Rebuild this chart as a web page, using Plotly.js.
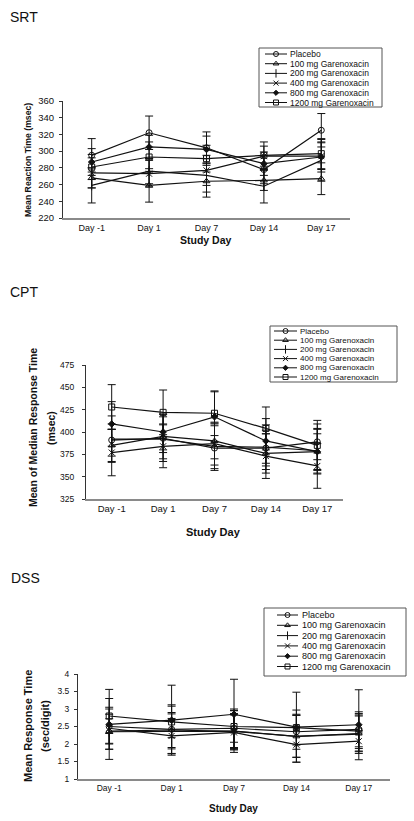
<!DOCTYPE html>
<html>
<head>
<meta charset="utf-8">
<script src="https://cdn.plot.ly/plotly-3.0.1.min.js"></script>
<style>
html,body{margin:0;padding:0;background:#fff;}
#chart{width:414px;height:821px;}
</style>
</head>
<body>
<div id="chart"></div>
<script>
// ---------- DATA ----------
var days = ["Day -1", "Day 1", "Day 7", "Day 14", "Day 17"];
var seriesNames = ["Placebo", "100 mg Garenoxacin", "200 mg Garenoxacin", "400 mg Garenoxacin", "800 mg Garenoxacin", "1200 mg Garenoxacin"];

// SRT: mean reaction time (msec)
var srtPlacebo = [295, 322, 304, 278, 325];
var srt100     = [268, 259, 264, 265, 267];
var srt200     = [259, 276, 271, 258, 289];
var srt400     = [274, 273, 277, 294, 294];
var srt800     = [287, 305, 302, 285, 293];
var srt1200    = [281, 293, 291, 295, 297];
var srtErrPlacebo = [20, 20, 19, 17, 20];
var srtErr100     = [12, 20, 19, 12, 19];
var srtErr200     = [21, 15, 20, 20, 25];
var srtErr400     = [18, 16, 18, 12, 16];
var srtErr800     = [16, 14, 16, 14, 18];
var srtErr1200    = [15, 18, 16, 16, 18];

// CPT: mean of median response time (msec)
var cptPlacebo = [391, 393, 382, 382, 389];
var cpt100     = [385, 395, 390, 376, 378];
var cpt200     = [392, 392, 384, 383, 379];
var cpt400     = [377, 384, 387, 373, 362];
var cpt800     = [409, 400, 417, 390, 378];
var cpt1200    = [428, 422, 421, 404, 385];
var cptErrPlacebo = [18, 16, 25, 20, 20];
var cptErr100     = [18, 25, 20, 22, 20];
var cptErr200     = [26, 25, 25, 25, 25];
var cptErr400     = [26, 24, 24, 25, 25];
var cptErr800     = [25, 20, 28, 25, 25];
var cptErr1200    = [25, 25, 25, 24, 28];

// DSS: mean response time (sec/digit)
var dssPlacebo = [2.50, 2.42, 2.45, 2.35, 2.42];
var dss100     = [2.37, 2.40, 2.36, 2.22, 2.30];
var dss200     = [2.35, 2.36, 2.37, 2.22, 2.28];
var dss400     = [2.45, 2.23, 2.33, 1.98, 2.08];
var dss800     = [2.56, 2.68, 2.85, 2.48, 2.55];
var dss1200    = [2.80, 2.63, 2.50, 2.47, 2.37];
var dssErrPlacebo = [0.50, 0.70, 0.55, 0.50, 0.50];
var dssErr100     = [0.35, 0.50, 0.60, 0.60, 0.50];
var dssErr200     = [0.50, 0.50, 0.50, 0.60, 0.55];
var dssErr400     = [0.60, 0.50, 0.50, 0.50, 0.30];
var dssErr800     = [1.00, 1.00, 1.00, 1.00, 1.00];
var dssErr1200    = [0.50, 0.45, 0.45, 0.50, 0.50];

// ---------- STYLE / LAYOUT ----------
var W = 414, H = 821;
var FONT = "Liberation Sans, Arial, sans-serif";
var symbols = ["circle-open", "triangle-up-open", "line-ns-open", "x-thin-open", "diamond", "square-open"];
var msizes  = [6, 6, 7, 6, 5, 6];

function px(x){ return x / W; }
function py(y){ return 1 - y / H; }

var panels = [
  { name: "SRT", vals: [srtPlacebo, srt100, srt200, srt400, srt800, srt1200],
    errs: [srtErrPlacebo, srtErr100, srtErr200, srtErr400, srtErr800, srtErr1200],
    box: {l: 63, r: 350, t: 101, b: 218}, range: [220, 360], dtick: 20, tickfont: 9.5, standoff: 3, xfont: 9,
    title: {x: 8, y: 17},
    ytitles: [{text: "Mean Reaction Time (msec)", x: 28, size: 8.7}], ytitleY: 160,
    xtitle: {x: 206, y: 240, size: 10.5},
    legend: {l: 259, t: 48, w: 123, h: 59, row0: 6, gap: 9.7, k0: 6, k1: 28, tx: 29, size: 8.5}
  },
  { name: "CPT", vals: [cptPlacebo, cpt100, cpt200, cpt400, cpt800, cpt1200],
    errs: [cptErrPlacebo, cptErr100, cptErr200, cptErr400, cptErr800, cptErr1200],
    box: {l: 86, r: 343, t: 365, b: 499}, range: [325, 475], dtick: 25, tickfont: 8.5, standoff: 6, xfont: 9.5,
    title: {x: 8, y: 292},
    ytitles: [{text: "Mean of Median Response Time", x: 33, size: 10.5}, {text: "(msec)", x: 51, size: 10.5}], ytitleY: 428,
    xtitle: {x: 214, y: 532, size: 11},
    legend: {l: 270, t: 326, w: 127, h: 56, row0: 5, gap: 9.2, k0: 4, k1: 27, tx: 28, size: 8}
  },
  { name: "DSS", vals: [dssPlacebo, dss100, dss200, dss400, dss800, dss1200],
    errs: [dssErrPlacebo, dssErr100, dssErr200, dssErr400, dssErr800, dssErr1200],
    box: {l: 78, r: 390, t: 674, b: 779}, range: [1, 4], dtick: 0.5, tickfont: 8.5, standoff: 3, xfont: 8.5,
    title: {x: 9, y: 578},
    ytitles: [{text: "Mean Response Time", x: 28, size: 11}, {text: "(sec/digit)", x: 45, size: 11}], ytitleY: 726,
    xtitle: {x: 234, y: 808, size: 10},
    legend: {l: 264, t: 608, w: 142, h: 68, row0: 7, gap: 10.3, k0: 13, k1: 34, tx: 36, size: 9}
  }
];

var traces = [];
var layout = {
  width: W, height: H,
  margin: {l: 0, r: 0, t: 0, b: 0},
  paper_bgcolor: "#fff", plot_bgcolor: "#fff",
  showlegend: false,
  font: {family: FONT, color: "#111"},
  annotations: [], shapes: []
};

panels.forEach(function(p, pi){
  var n = pi + 1;
  var xa = "xaxis" + (n === 1 ? "" : n), ya = "yaxis" + (n === 1 ? "" : n);
  var xr = "x" + (n === 1 ? "" : n), yr = "y" + (n === 1 ? "" : n);

  p.vals.forEach(function(v, si){
    traces.push({
      type: "scatter", mode: "lines+markers",
      x: days, y: v, xaxis: xr, yaxis: yr, name: seriesNames[si],
      line: {color: "#111", width: 1.2},
      marker: {symbol: symbols[si], size: msizes[si], color: "#111", line: {color: "#111", width: 1}},
      error_y: {type: "data", array: p.errs[si], visible: true, color: "#111", thickness: 1, width: 4},
      cliponaxis: false
    });
  });

  layout[xa] = {
    domain: [px(p.box.l), px(p.box.r)], anchor: yr, type: "category",
    range: [-0.5, 4.5], showgrid: false, zeroline: false,
    showline: true, linecolor: "#8a8a8a", linewidth: 2,
    ticks: "", tickfont: {size: p.xfont, family: FONT, color: "#111"}, fixedrange: true
  };
  layout[ya] = {
    domain: [py(p.box.b), py(p.box.t)], anchor: xr,
    range: p.range, dtick: p.dtick, tick0: p.range[0],
    showgrid: false, zeroline: false,
    showline: true, linecolor: "#333", linewidth: 1,
    ticks: "outside", ticklen: 3, tickcolor: "#333",
    ticklabelstandoff: p.standoff,
    tickfont: {size: p.tickfont, family: FONT, color: "#111"}, fixedrange: true
  };

  // panel title
  layout.annotations.push({
    text: p.name, xref: "paper", yref: "paper", x: px(p.title.x), y: py(p.title.y),
    xanchor: "left", yanchor: "middle", showarrow: false,
    font: {size: 14, family: FONT, color: "#111"}
  });
  // y-axis title lines
  p.ytitles.forEach(function(t){
    layout.annotations.push({
      text: "<b>" + t.text + "</b>", xref: "paper", yref: "paper",
      x: px(t.x), y: py(p.ytitleY), xanchor: "center", yanchor: "middle",
      textangle: -90, showarrow: false, font: {size: t.size, family: FONT, color: "#111"}
    });
  });
  // x-axis title
  layout.annotations.push({
    text: "<b>Study Day</b>", xref: "paper", yref: "paper",
    x: px(p.xtitle.x), y: py(p.xtitle.y), xanchor: "center", yanchor: "middle",
    showarrow: false, font: {size: p.xtitle.size, family: FONT, color: "#111"}
  });

  // legend: keys drawn on a hidden helper axis covering the legend box
  var L = p.legend, ln = n + 3;
  var lxa = "xaxis" + ln, lya = "yaxis" + ln, lxr = "x" + ln, lyr = "y" + ln;
  layout[lxa] = {domain: [px(L.l), px(L.l + L.w)], range: [0, L.w], visible: false, anchor: lyr, fixedrange: true};
  layout[lya] = {domain: [py(L.t + L.h), py(L.t)], range: [L.h, 0], visible: false, anchor: lxr, fixedrange: true};
  layout.shapes.push({
    type: "rect", xref: "paper", yref: "paper",
    x0: px(L.l), x1: px(L.l + L.w), y0: py(L.t + L.h), y1: py(L.t),
    line: {color: "#555", width: 1}, fillcolor: "rgba(0,0,0,0)"
  });
  seriesNames.forEach(function(nm, si){
    var ry = L.row0 + si * L.gap;
    traces.push({
      type: "scatter", mode: "lines", x: [L.k0, L.k1], y: [ry, ry],
      xaxis: lxr, yaxis: lyr, line: {color: "#111", width: 1}, hoverinfo: "skip", showlegend: false
    });
    traces.push({
      type: "scatter", mode: "markers", x: [(L.k0 + L.k1) / 2], y: [ry],
      xaxis: lxr, yaxis: lyr, hoverinfo: "skip", showlegend: false,
      marker: {symbol: symbols[si], size: msizes[si] - 1, color: "#111", line: {color: "#111", width: 1}}
    });
    layout.annotations.push({
      text: nm, xref: lxr, yref: lyr, x: L.tx, y: ry, xanchor: "left", yanchor: "middle",
      showarrow: false, font: {size: L.size, family: FONT, color: "#111"}
    });
  });
});

Plotly.newPlot("chart", traces, layout, {staticPlot: true, displayModeBar: false});
</script>
</body>
</html>
